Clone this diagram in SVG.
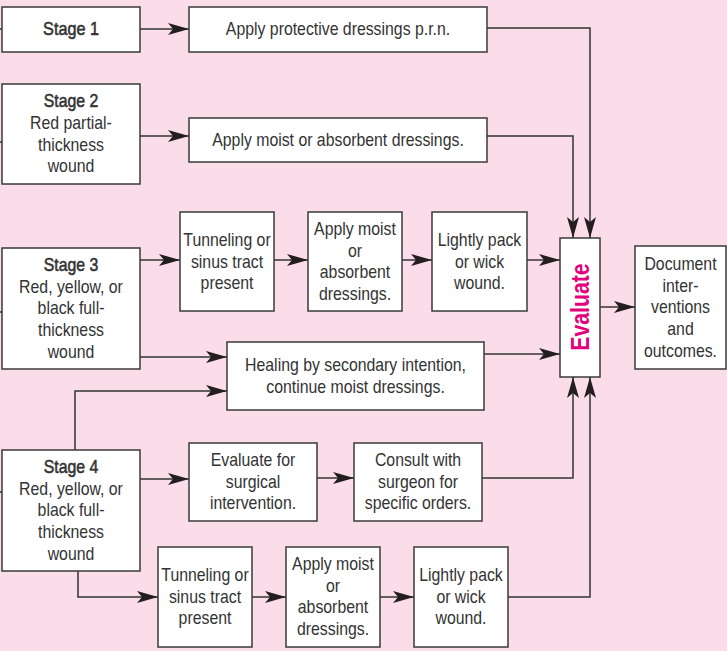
<svg xmlns="http://www.w3.org/2000/svg" width="727" height="651" viewBox="0 0 727 651">
  <defs>
    <marker id="arrow" markerUnits="userSpaceOnUse" markerWidth="24" markerHeight="14" refX="21" refY="6" orient="auto">
      <path d="M0,0 L21,6 L0,12 L5,6 z" fill="#231f20"/>
    </marker>
    <style>
      .box { fill: #ffffff; stroke: #3a3a3a; stroke-width: 1.5; }
      .wire { fill: none; stroke: #333333; stroke-width: 1.5; }
      .arr { marker-end: url(#arrow); }
      .t { font-family: "Liberation Sans", Arial, sans-serif; font-size: 18px; fill: #333333; text-anchor: middle; }
      .b { stroke: #333333; stroke-width: 0.55; }
      .eval { font-family: "Liberation Sans", Arial, sans-serif; font-size: 25px; font-weight: bold; fill: #e4007c; text-anchor: middle; }
    </style>
  </defs>

  <rect width="727" height="651" fill="#fbdde9"/>

  <!-- connectors -->
  <g id="connectors">
    <path class="wire" d="M0,29 H2 M0,142 H2 M0,312 H2 M0,492 H2"/>
    <path class="wire arr" d="M140,29 H189"/>
    <path class="wire arr" d="M140,136 H189"/>
    <path class="wire arr" d="M487,28 H590 V238"/>
    <path class="wire arr" d="M487,136 H573 V238"/>
    <path class="wire arr" d="M140,260 H180"/>
    <path class="wire arr" d="M274,260 H308"/>
    <path class="wire arr" d="M402,260 H432"/>
    <path class="wire arr" d="M527,260 H560"/>
    <path class="wire arr" d="M140,357 H227"/>
    <path class="wire arr" d="M75,450 V391 H227"/>
    <path class="wire arr" d="M484,354 H560"/>
    <path class="wire arr" d="M600,307 H635"/>
    <path class="wire arr" d="M140,479 H189"/>
    <path class="wire arr" d="M317,478 H354"/>
    <path class="wire arr" d="M482,478 H573 V377"/>
    <path class="wire arr" d="M78,571 V597 H158"/>
    <path class="wire arr" d="M252,597 H286"/>
    <path class="wire arr" d="M380,597 H414"/>
    <path class="wire arr" d="M508,597 H590 V377"/>
  </g>

  <!-- stage boxes -->
  <g id="stage1">
    <rect class="box" x="2" y="7" width="138" height="45"/>
    <g transform="translate(71 0) scale(0.9 1)">
      <text class="t b" x="0" y="35">Stage 1</text>
    </g>
  </g>
  <g id="stage2">
    <rect class="box" x="2" y="84" width="138" height="100"/>
    <g transform="translate(71 0) scale(0.88 1)">
      <text class="t b" x="0" y="107">Stage 2</text>
      <text class="t" x="0" y="129">Red partial-</text>
      <text class="t" x="0" y="151">thickness</text>
      <text class="t" x="0" y="172">wound</text>
    </g>
  </g>
  <g id="stage3">
    <rect class="box" x="2" y="248" width="138" height="121"/>
    <g transform="translate(71 0) scale(0.88 1)">
      <text class="t b" x="0" y="271">Stage 3</text>
      <text class="t" x="0" y="293">Red, yellow, or</text>
      <text class="t" x="0" y="314">black full-</text>
      <text class="t" x="0" y="336">thickness</text>
      <text class="t" x="0" y="358">wound</text>
    </g>
  </g>
  <g id="stage4">
    <rect class="box" x="2" y="450" width="138" height="121"/>
    <g transform="translate(71 0) scale(0.88 1)">
      <text class="t b" x="0" y="473">Stage 4</text>
      <text class="t" x="0" y="495">Red, yellow, or</text>
      <text class="t" x="0" y="516">black full-</text>
      <text class="t" x="0" y="538">thickness</text>
      <text class="t" x="0" y="560">wound</text>
    </g>
  </g>

  <!-- stage 1 and 2 actions -->
  <g id="protective">
    <rect class="box" x="189" y="7" width="298" height="45"/>
    <g transform="translate(338 0) scale(0.88 1)">
      <text class="t" x="0" y="35">Apply protective dressings p.r.n.</text>
    </g>
  </g>
  <g id="moist2">
    <rect class="box" x="189" y="118" width="298" height="44"/>
    <g transform="translate(338 0) scale(0.88 1)">
      <text class="t" x="0" y="146">Apply moist or absorbent dressings.</text>
    </g>
  </g>

  <!-- stage 3 actions -->
  <g id="tunnel3">
    <rect class="box" x="180" y="212" width="94" height="99"/>
    <g transform="translate(227 0) scale(0.88 1)">
      <text class="t" x="0" y="246">Tunneling or</text>
      <text class="t" x="0" y="268">sinus tract</text>
      <text class="t" x="0" y="289">present</text>
    </g>
  </g>
  <g id="moist3">
    <rect class="box" x="308" y="212" width="94" height="99"/>
    <g transform="translate(355 0) scale(0.88 1)">
      <text class="t" x="0" y="235">Apply moist</text>
      <text class="t" x="0" y="257">or</text>
      <text class="t" x="0" y="278">absorbent</text>
      <text class="t" x="0" y="300">dressings.</text>
    </g>
  </g>
  <g id="pack3">
    <rect class="box" x="432" y="212" width="95" height="99"/>
    <g transform="translate(479.5 0) scale(0.88 1)">
      <text class="t" x="0" y="246">Lightly pack</text>
      <text class="t" x="0" y="268">or wick</text>
      <text class="t" x="0" y="289">wound.</text>
    </g>
  </g>
  <g id="healing">
    <rect class="box" x="227" y="342" width="257" height="68"/>
    <g transform="translate(355.5 0) scale(0.88 1)">
      <text class="t" x="0" y="371">Healing by secondary intention,</text>
      <text class="t" x="0" y="393">continue moist dressings.</text>
    </g>
  </g>

  <!-- evaluation and documentation -->
  <g id="evaluate">
    <rect class="box" x="560" y="238" width="40" height="139"/>
    <g transform="translate(589 307) rotate(-90) scale(0.85 1)">
      <text class="eval" x="0" y="0">Evaluate</text>
    </g>
  </g>
  <g id="document">
    <rect class="box" x="635" y="246" width="91" height="123"/>
    <g transform="translate(680.5 0) scale(0.88 1)">
      <text class="t" x="0" y="270">Document</text>
      <text class="t" x="0" y="292">inter-</text>
      <text class="t" x="0" y="313">ventions</text>
      <text class="t" x="0" y="335">and</text>
      <text class="t" x="0" y="357">outcomes.</text>
    </g>
  </g>

  <!-- stage 4 actions -->
  <g id="surgical">
    <rect class="box" x="189" y="443" width="128" height="78"/>
    <g transform="translate(253 0) scale(0.88 1)">
      <text class="t" x="0" y="466">Evaluate for</text>
      <text class="t" x="0" y="488">surgical</text>
      <text class="t" x="0" y="509">intervention.</text>
    </g>
  </g>
  <g id="consult">
    <rect class="box" x="354" y="443" width="128" height="78"/>
    <g transform="translate(418 0) scale(0.88 1)">
      <text class="t" x="0" y="466">Consult with</text>
      <text class="t" x="0" y="488">surgeon for</text>
      <text class="t" x="0" y="509">specific orders.</text>
    </g>
  </g>
  <g id="tunnel4">
    <rect class="box" x="158" y="547" width="94" height="100"/>
    <g transform="translate(205 0) scale(0.88 1)">
      <text class="t" x="0" y="581">Tunneling or</text>
      <text class="t" x="0" y="603">sinus tract</text>
      <text class="t" x="0" y="624">present</text>
    </g>
  </g>
  <g id="moist4">
    <rect class="box" x="286" y="547" width="94" height="100"/>
    <g transform="translate(333 0) scale(0.88 1)">
      <text class="t" x="0" y="570">Apply moist</text>
      <text class="t" x="0" y="592">or</text>
      <text class="t" x="0" y="613">absorbent</text>
      <text class="t" x="0" y="635">dressings.</text>
    </g>
  </g>
  <g id="pack4">
    <rect class="box" x="414" y="547" width="94" height="100"/>
    <g transform="translate(461 0) scale(0.88 1)">
      <text class="t" x="0" y="581">Lightly pack</text>
      <text class="t" x="0" y="603">or wick</text>
      <text class="t" x="0" y="624">wound.</text>
    </g>
  </g>
</svg>
